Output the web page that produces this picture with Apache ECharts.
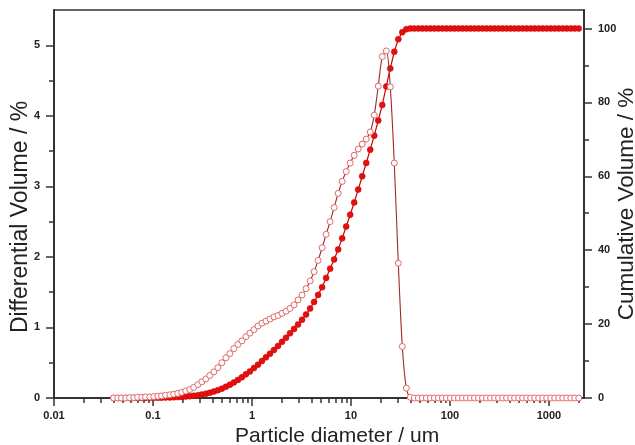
<!DOCTYPE html>
<html>
<head>
<meta charset="utf-8">
<script src="https://cdn.jsdelivr.net/npm/echarts@6/dist/echarts.min.js"></script>
<style>
html,body{margin:0;padding:0;background:#fff;}
#chart{width:635px;height:445px;}
</style>
</head>
<body>
<div id="chart"></div>
<script>
// Particle diameters (um), instrument channels
const diameters = [
0.040,0.044,0.048,0.053,0.058,0.064,0.070,0.077,0.084,0.093,
0.102,0.112,0.122,0.134,0.148,0.162,0.178,0.195,0.214,0.235,
0.258,0.284,0.311,0.342,0.375,0.412,0.452,0.496,0.545,0.598,
0.656,0.721,0.791,0.868,0.953,1.047,1.149,1.261,1.385,1.520,
1.668,1.832,2.011,2.207,2.423,2.660,2.920,3.205,3.519,3.863,
4.240,4.655,5.110,5.610,6.158,6.760,7.421,8.147,8.943,9.817,
10.78,11.83,12.99,14.26,15.65,17.18,18.86,20.71,22.73,24.95,
27.39,30.07,33.01,36.24,39.78,43.67,47.94,52.62,57.77,63.41,
69.61,76.42,83.89,92.09,101.1,111.0,121.8,133.7,146.8,161.2,
176.8,194.2,213.2,234.1,256.8,282.1,309.6,339.9,373.1,409.6,
449.7,493.6,541.9,594.9,653.0,716.8,786.9,863.9,948.2,1041,
1143,1255,1377,1512,1660,1822,2000
];
// Differential volume (%)
const differential = [
0,0,0,0,0.005,0.005,0.01,0.01,0.015,0.015,
0.02,0.025,0.03,0.04,0.045,0.055,0.065,0.08,0.10,0.12,
0.15,0.19,0.23,0.27,0.32,0.37,0.43,0.50,0.57,0.63,
0.70,0.76,0.81,0.87,0.92,0.97,1.02,1.06,1.09,1.12,
1.15,1.17,1.20,1.23,1.27,1.32,1.39,1.46,1.55,1.66,
1.79,1.95,2.13,2.32,2.50,2.70,2.90,3.07,3.21,3.33,
3.44,3.53,3.60,3.67,3.77,4.01,4.42,4.84,4.92,4.41,
3.33,1.91,0.73,0.14,0.01,0,0,0,0,0,
0,0,0,0,0,0,0,0,0,0,
0,0,0,0,0,0,0,0,0,0,
0,0,0,0,0,0,0,0,0,0,
0,0,0,0,0,0,0
];
// Cumulative volume (%)
const cumulative = [
0,0,0,0,0,0.01,0.01,0.02,0.03,0.04,
0.05,0.07,0.09,0.12,0.15,0.19,0.24,0.3,0.38,0.48,
0.6,0.75,0.93,1.15,1.42,1.74,2.1,2.53,3.03,3.6,
4.2,4.9,5.6,6.4,7.2,8.1,9.0,10.0,11.0,12.0,
13.0,14.1,15.2,16.3,17.5,18.7,19.9,21.2,22.6,24.2,
26.0,27.9,30.0,32.5,35.0,37.5,40.2,43.2,46.4,49.6,
52.9,56.4,60.0,63.6,67.2,71.0,75.1,79.3,84.3,89.2,
93.7,97.1,99.0,99.8,100,100,100,100,100,100,
100,100,100,100,100,100,100,100,100,100,
100,100,100,100,100,100,100,100,100,100,
100,100,100,100,100,100,100,100,100,100,
100,100,100,100,100,100,100
];
// Tick values
const xMajorTicks = [0.01, 0.1, 1, 10, 100, 1000];
const xMinorTicks = [
0.02,0.03,0.04,0.05,0.06,0.07,0.08,0.09,
0.2,0.3,0.4,0.5,0.6,0.7,0.8,0.9,
2,3,4,5,6,7,8,9,
20,30,40,50,60,70,80,90,
200,300,400,500,600,700,800,900,
2000
];
const xLabels = ['0.01','0.1','1','10','100','1000'];
const leftMajorTicks = [0,1,2,3,4,5];
const leftMinorTicks = [0.5,1.5,2.5,3.5,4.5];
const rightMajorTicks = [0,20,40,60,80,100];
const rightMinorTicks = [10,30,50,70,90];

const FONT = '"Liberation Sans", Arial, sans-serif';
const AX = '#333';

const chart = echarts.init(document.getElementById('chart'), null, {renderer:'canvas'});

const diffData = diameters.map((d,i)=>[d, differential[i]]);
const cumData = diameters.map((d,i)=>[d, cumulative[i]]);

const tickLabelStyle = {color:'#222', fontFamily:FONT, fontWeight:'bold', fontSize:11};

chart.setOption({
  animation:false,
  backgroundColor:'#fff',
  grid:{left:54, right:51, top:10, bottom:47, containLabel:false, outerBoundsMode:'none',
        show:true, borderColor:AX, borderWidth:1.5, backgroundColor:'transparent'},
  xAxis:[
    {type:'log', logBase:10, min:0.01, max:2260, position:'bottom',
     name:'Particle diameter / um', nameLocation:'middle', nameGap:26,
     nameTextStyle:{fontFamily:FONT, fontSize:21, color:'#222', padding:[0,0,0,36]},
     axisLine:{show:true, onZero:false, lineStyle:{color:AX, width:2}},
     axisTick:{show:true, inside:false, length:8, lineStyle:{color:AX, width:1.5}, customValues:xMajorTicks},
     axisLabel:Object.assign({margin:12, customValues:xMajorTicks,
        formatter:(v)=>{const k=xMajorTicks.findIndex(t=>Math.abs(Math.log10(t)-Math.log10(v))<1e-6);return k>=0?xLabels[k]:'';}}, tickLabelStyle),
     splitLine:{show:false}, minorTick:{show:false}},
    {type:'log', logBase:10, min:0.01, max:2260, position:'bottom',
     axisLine:{show:false, onZero:false},
     axisTick:{show:true, inside:false, length:5, lineStyle:{color:AX, width:1.5}, customValues:xMinorTicks},
     axisLabel:{show:false}, splitLine:{show:false}}
  ],
  yAxis:[
    {type:'value', min:0, max:5.5, position:'left',
     name:'Differential Volume / %', nameLocation:'middle', nameGap:22, nameRotate:90, nameMoveOverlap:false,
     nameTextStyle:{fontFamily:FONT, fontSize:23, color:'#222', padding:[0,26,0,0]},
     axisLine:{show:true, onZero:false, lineStyle:{color:AX, width:2}},
     axisTick:{show:true, inside:false, length:8, lineStyle:{color:AX, width:1.5}, customValues:leftMajorTicks},
     axisLabel:Object.assign({margin:14, customValues:leftMajorTicks}, tickLabelStyle),
     splitLine:{show:false}},
    {type:'value', min:0, max:5.5, position:'left',
     axisLine:{show:false},
     axisTick:{show:true, inside:false, length:5, lineStyle:{color:AX, width:1.5}, customValues:leftMinorTicks},
     axisLabel:{show:false}, splitLine:{show:false}},
    {type:'value', min:0, max:105, position:'right',
     name:'Cumulative Volume / %', nameLocation:'middle', nameGap:31, nameRotate:90, nameMoveOverlap:false,
     nameTextStyle:{fontFamily:FONT, fontSize:22.5, color:'#222'},
     axisLine:{show:true, onZero:false, lineStyle:{color:AX, width:2}},
     axisTick:{show:true, inside:false, length:8, lineStyle:{color:AX, width:1.5}, customValues:rightMajorTicks},
     axisLabel:Object.assign({margin:14, customValues:rightMajorTicks}, tickLabelStyle),
     splitLine:{show:false}},
    {type:'value', min:0, max:105, position:'right',
     axisLine:{show:false},
     axisTick:{show:true, inside:false, length:5, lineStyle:{color:AX, width:1.5}, customValues:rightMinorTicks},
     axisLabel:{show:false}, splitLine:{show:false}}
  ],
  series:[
    {name:'Cumulative', type:'line', xAxisIndex:0, yAxisIndex:2, data:cumData,
     symbol:'circle', symbolSize:6, showAllSymbol:true,
     lineStyle:{color:'#d40000', width:1.2},
     itemStyle:{color:'#e31010', borderColor:'#d00000', borderWidth:0.5},
     z:2},
    {name:'Differential', type:'line', xAxisIndex:0, yAxisIndex:0, data:diffData,
     symbol:'circle', symbolSize:6, showAllSymbol:true, smooth:0.3,
     lineStyle:{color:'#a02828', width:1.1},
     itemStyle:{color:'#ffffff', borderColor:'#e36a6a', borderWidth:1},
     z:3}
  ]
});
</script>
</body>
</html>
